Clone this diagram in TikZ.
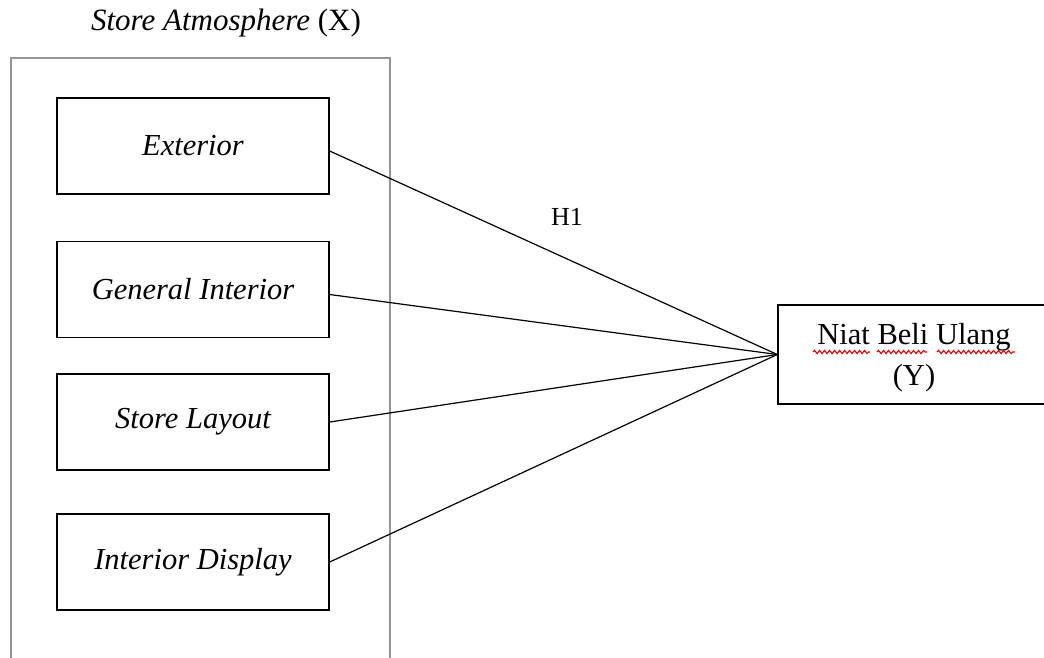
\documentclass[tikz,border=0pt]{standalone}
\usepackage{fontspec}
\setmainfont{Liberation Serif}
\usetikzlibrary{calc,decorations.pathmorphing}
\begin{document}
\begin{tikzpicture}[x=1pt,y=-1pt,
  dim/.style={draw=black,line width=1.4pt,minimum width=272pt,minimum height=96pt,
    inner sep=0pt,font=\fontsize{30.5}{36}\selectfont\itshape},
  target/.style={draw=black,line width=1.4pt,minimum width=272pt,minimum height=99pt,
    inner sep=0pt,align=center,font=\fontsize{30.5}{41}\selectfont},
  link/.style={line width=1.2pt},
  group/.style={draw=black!42,line width=2pt},
  spell/.style={draw=red!90!black,line width=1.1pt,decorate,
    decoration={snake,segment length=5pt,amplitude=1.6pt}}]
  \useasboundingbox (0,0) rectangle (1044,657);
  \clip (0,0) rectangle (1044,657);

  % independent variable group
  \node[anchor=base,font=\fontsize{31}{36}\selectfont] (xlabel) at (226,30)
    {\textit{Store Atmosphere} (X)};
  \draw[group] (11,58) rectangle (390,690);

  % dimensions
  \node[dim] (ext) at (193,146)   {Exterior};
  \node[dim] (gen) at (193,289.5) {General Interior};
  \node[dim] (lay) at (193,422)   {Store Layout};
  \node[dim] (dis) at (193,562)   {Interior Display};

  % dependent variable
  \node[target] (y) at (914,354.5) {\rule{0pt}{28pt}Niat Beli Ulang\\(Y)};

  % spelling marks under the words
  \draw[spell] (813,352) -- (870,352);
  \draw[spell] (877,352) -- (927,352);
  \draw[spell] (937,352) -- (1015,352);

  % paths to the dependent variable
  \draw[link] ($(ext.east)+(0,5)$) -- (y.west);
  \draw[link] ($(gen.east)+(0,5)$) -- (y.west);
  \draw[link] (lay.east) -- (y.west);
  \draw[link] (dis.east) -- (y.west);

  \node[font=\fontsize{26}{30}\selectfont] (h1) at (567,217) {H1};
\end{tikzpicture}
\end{document}
